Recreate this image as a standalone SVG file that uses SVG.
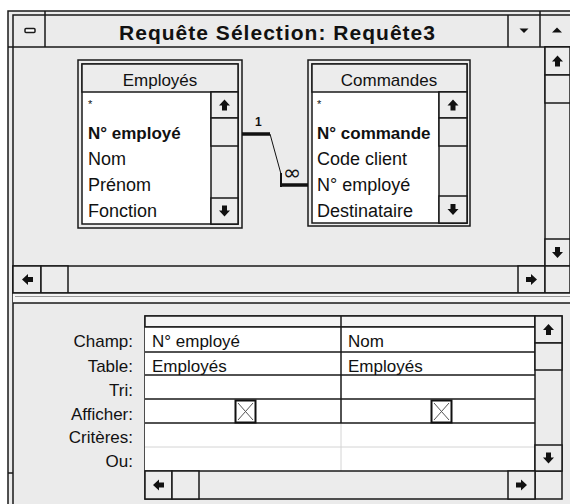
<svg xmlns="http://www.w3.org/2000/svg" width="570" height="504" viewBox="0 0 570 504">
<style>
text{font-family:"Liberation Sans",Arial,sans-serif;fill:#111}
.ln{stroke:#1a1a1a;stroke-width:1.5;fill:none}
.btn{fill:#ececec;stroke:#1a1a1a;stroke-width:1.5}
.bg{fill:#ebebeb}
.item{font-size:18px}
.bold{font-weight:bold;font-size:17px}
.ttl{font-size:17px;text-anchor:middle}
.lbl{font-size:17px;text-anchor:end}
.cell{font-size:17px}
.arr{fill:#111}
.light{stroke:#d4d4d4;stroke-width:1;fill:none}
.thick{stroke:#111;stroke-width:3.5;fill:none}
.thin{stroke:#111;stroke-width:1;fill:none}
</style>
<defs>
<path id="au" d="M0,-5.5 L5.5,0.5 L2.5,0.5 L2.5,5.5 L-2.5,5.5 L-2.5,0.5 L-5.5,0.5 Z"/>
</defs>
<rect width="570" height="504" fill="#fff"/>
<g id="window">
<rect x="8" y="11" width="570" height="500" class="bg" stroke="#1a1a1a" stroke-width="1.5"/>
<path class="ln" d="M13,504 V15 H570"/>
<path class="ln" d="M45,11 V15 M540,11 V15 M8,47 H13 M8,473 H13"/>
</g>
<g id="titlebar">
<path class="ln" d="M13,47 H570 M45,15 V47 M508,15 V47 M540,15 V47"/>
<rect x="25" y="28.5" width="10" height="4" fill="#fff" stroke="#1a1a1a" stroke-width="1.5" rx="1"/>
<text x="277" y="40" font-size="21" font-weight="bold" text-anchor="middle" textLength="316" lengthAdjust="spacing">Requête Sélection: Requête3</text>
<path class="arr" d="M519.5,28.5 H528.5 L524,33 Z"/>
<path class="arr" d="M552,32.5 H562 L557,27.5 Z"/>
</g>
<g id="upper-scrollbars">
<rect x="545" y="47" width="25" height="219" class="btn"/>
<rect x="545" y="47" width="25" height="28" class="btn"/>
<rect x="545" y="75" width="25" height="28" class="btn"/>
<rect x="545" y="239" width="25" height="27" class="btn"/>
<use href="#au" x="557.5" y="61" class="arr"/>
<use href="#au" transform="translate(557.5,252.5) rotate(180)" class="arr"/>
<rect x="13" y="266" width="532" height="27" class="btn"/>
<rect x="13" y="266" width="28" height="27" class="btn"/>
<rect x="41" y="266" width="27" height="27" class="btn"/>
<rect x="518" y="266" width="27" height="27" class="btn"/>
<rect x="545" y="266" width="25" height="27" class="btn"/>
<use href="#au" transform="translate(27.5,279.5) rotate(-90)" class="arr"/>
<use href="#au" transform="translate(531.5,279.5) rotate(90)" class="arr"/>
</g>
<g id="splitter">
<rect x="13" y="293" width="557" height="10" fill="#f5f5f5"/>
<path class="ln" d="M13,293 H570 M13,303 H570"/>
<path d="M15,296.5 H570" stroke="#9a9a9a" stroke-width="1"/>
</g>
<g id="table-employes">
<rect x="78" y="60" width="164" height="168" class="btn"/>
<rect x="82" y="64" width="156" height="160" fill="#fff" stroke="#1a1a1a" stroke-width="1.5"/>
<rect x="82" y="64" width="156" height="28" class="btn"/>
<text x="160" y="86" class="ttl">Employés</text>
<rect x="211" y="92" width="27" height="132" class="btn"/>
<rect x="211" y="92" width="27" height="26" class="btn"/>
<rect x="211" y="118" width="27" height="28" class="btn"/>
<rect x="211" y="198" width="27" height="26" class="btn"/>
<use href="#au" x="224.5" y="105" class="arr"/>
<use href="#au" transform="translate(224.5,211) rotate(180)" class="arr"/>
<text x="88" y="108" font-size="11">*</text>
<text x="88" y="139" class="bold">N° employé</text>
<text x="88" y="165" class="item">Nom</text>
<text x="88" y="191" class="item">Prénom</text>
<text x="88" y="217" class="item">Fonction</text>
</g>
<g id="table-commandes">
<rect x="308" y="60" width="162" height="166" class="btn"/>
<rect x="312" y="64" width="155" height="159" fill="#fff" stroke="#1a1a1a" stroke-width="1.5"/>
<rect x="312" y="64" width="155" height="28" class="btn"/>
<text x="389" y="86" class="ttl">Commandes</text>
<rect x="439" y="92" width="28" height="131" class="btn"/>
<rect x="439" y="92" width="28" height="26" class="btn"/>
<rect x="439" y="118" width="28" height="28" class="btn"/>
<rect x="439" y="196" width="28" height="27" class="btn"/>
<use href="#au" x="453" y="105" class="arr"/>
<use href="#au" transform="translate(453,209.5) rotate(180)" class="arr"/>
<text x="317" y="108" font-size="11">*</text>
<text x="317" y="139" class="bold">N° commande</text>
<text x="317" y="165" class="item">Code client</text>
<text x="317" y="191" class="item">N° employé</text>
<text x="317" y="217" class="item">Destinataire</text>
</g>
<g id="connectors">
<path class="thick" d="M242,134 H270"/>
<path class="thin" d="M270,134 L281,174"/>
<path d="M281,173 V187" stroke="#111" stroke-width="2"/>
<path class="thick" d="M280,185 H308"/>
<text x="255" y="126" font-size="12" font-weight="bold">1</text>
<text x="283" y="180" font-size="22" style="font-family:'DejaVu Sans',sans-serif">∞</text>
</g>
<g id="grid">
<rect x="145" y="316" width="417" height="183" class="btn"/>
<rect x="145" y="316" width="390" height="11" fill="#f4f4f4" stroke="#1a1a1a" stroke-width="1.5"/>
<rect x="145" y="327" width="390" height="144" fill="#fff"/>
<path class="light" d="M145,447 H535 M341,423 V471"/>
<path class="ln" d="M145,327 H535 M145,352 H535 M145,375 H535 M145,399 H535 M145,423 H535 M145,471 H562 M341,316 V423 M535,316 V499"/>
<rect x="535" y="316" width="27" height="27" class="btn"/>
<rect x="535" y="343" width="27" height="27" class="btn"/>
<rect x="535" y="445" width="27" height="26" class="btn"/>
<use href="#au" x="548.5" y="329.5" class="arr"/>
<use href="#au" transform="translate(548.5,458) rotate(180)" class="arr"/>
<rect x="145" y="471" width="27" height="28" class="btn"/>
<rect x="172" y="471" width="27" height="28" class="btn"/>
<rect x="508" y="471" width="27" height="28" class="btn"/>
<use href="#au" transform="translate(158.5,485) rotate(-90)" class="arr"/>
<use href="#au" transform="translate(521.5,485) rotate(90)" class="arr"/>
<text x="133" y="347" class="lbl">Champ:</text>
<text x="133" y="372" class="lbl">Table:</text>
<text x="133" y="396" class="lbl">Tri:</text>
<text x="133" y="420" class="lbl">Afficher:</text>
<text x="133" y="443" class="lbl">Critères:</text>
<text x="133" y="467" class="lbl">Ou:</text>
<text x="152" y="347" class="cell">N° employé</text>
<text x="152" y="372" class="cell">Employés</text>
<text x="348" y="347" class="cell">Nom</text>
<text x="348" y="372" class="cell">Employés</text>
<g id="checkbox-1">
<rect x="235.5" y="400.5" width="20" height="22" fill="#fff" stroke="#111" stroke-width="2"/>
<path d="M238,403 L253,420 M253,403 L238,420" stroke="#555" stroke-width="1"/>
</g>
<g id="checkbox-2">
<rect x="431.5" y="400.5" width="20" height="22" fill="#fff" stroke="#111" stroke-width="2"/>
<path d="M434,403 L449,420 M449,403 L434,420" stroke="#555" stroke-width="1"/>
</g>
</g>
</svg>
